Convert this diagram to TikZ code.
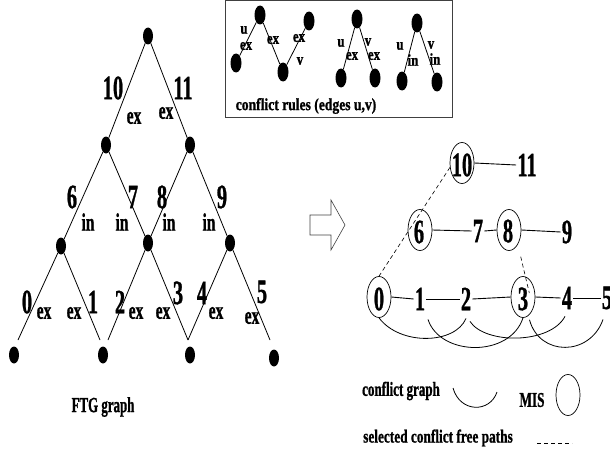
\documentclass[tikz,border=0pt]{standalone}
\usepackage{graphicx}
\usepackage{fontspec}
\setmainfont{Liberation Serif}[BoldFont={Liberation Serif Bold}, BoldFeatures={FakeBold=1.2}]
\usetikzlibrary{shapes.geometric}

% condensed bold text: size, horizontal squeeze, text
\newcommand\ctext[3]{\scalebox{#2}[1]{\fontsize{#1}{#1}\selectfont\bfseries #3}}
\newcommand\bignum[1]{\ctext{34}{0.6}{#1}}
\newcommand\elab[1]{\ctext{25}{0.62}{#1}}
\newcommand\rlab[1]{\ctext{16.5}{0.78}{#1}}

\tikzset{
  dot/.style={ellipse, fill=black, minimum width=10pt, minimum height=17pt, inner sep=0pt},
  sdot/.style={ellipse, fill=black, minimum width=11pt, minimum height=19pt, inner sep=0pt},
  num/.style={inner sep=1pt},
  lbl/.style={inner sep=0pt},
  tedge/.style={line width=0.8pt},
  gedge/.style={line width=0.9pt},
  arc/.style={line width=0.8pt},
  mis/.style={draw, ellipse, line width=0.7pt, minimum width=24pt, minimum height=41pt, inner sep=0pt},
  dpath/.style={line width=0.6pt, dash pattern=on 4pt off 3pt},
  boxline/.style={line width=1pt, black!75},
}

\begin{document}
\begin{tikzpicture}[x=1pt, y=-1pt]
\useasboundingbox (0,0) rectangle (610,452);

% ---------------- FTG graph ----------------
\node[dot] (t0) at (148,36) {};
\node[dot] (t1) at (106,145) {};
\node[dot] (t2) at (190,145) {};
\node[dot] (t3) at (61,246) {};
\node[dot] (t4) at (148,243) {};
\node[dot] (t5) at (230,243) {};
\node[dot] (l0) at (14,355) {};
\node[dot] (l1) at (103,355) {};
\node[dot] (l2) at (190,355) {};
\node[dot] (l3) at (274,358) {};

\coordinate (v0) at (18,340);
\coordinate (v1) at (100,340);
\coordinate (v2) at (108,340);
\coordinate (v3) at (188,340);
\coordinate (v4) at (270,340);

\draw[tedge] (t0) -- (t1);
\draw[tedge] (t0) -- (t2);
\draw[tedge] (t1) -- (t3);
\draw[tedge] (t1) -- (t4);
\draw[tedge] (t2) -- (t4);
\draw[tedge] (t2) -- (t5);
\draw[tedge] (t3) -- (v0);
\draw[tedge] (t3) -- (v1);
\draw[tedge] (t4) -- (v2);
\draw[tedge] (t4) -- (v3);
\draw[tedge] (t5) -- (v3);
\draw[tedge] (t5) -- (v4);

% edge numbers
\node[lbl] (k10) at (113,88) {\bignum{10}};
\node[lbl] (k11) at (183,88) {\bignum{11}};
\node[lbl] (k6) at (72,197) {\bignum{6}};
\node[lbl] (k7) at (133,197) {\bignum{7}};
\node[lbl] (k8) at (162,197) {\bignum{8}};
\node[lbl] (k9) at (222,197) {\bignum{9}};
\node[lbl] (k0) at (27,302) {\bignum{0}};
\node[lbl] (k1) at (93,302) {\bignum{1}};
\node[lbl] (k2) at (120,302) {\bignum{2}};
\node[lbl] (k3) at (178,293) {\bignum{3}};
\node[lbl] (k4) at (202,293) {\bignum{4}};
\node[lbl] (k5) at (262,292) {\bignum{5}};

% edge types
\node[lbl] (x10) at (134,118) {\elab{ex}};
\node[lbl] (x11) at (166,113) {\elab{ex}};
\node[lbl] (x6) at (88,222) {\elab{in}};
\node[lbl] (x7) at (122,222) {\elab{in}};
\node[lbl] (x8) at (169,222) {\elab{in}};
\node[lbl] (x9) at (209,222) {\elab{in}};
\node[lbl] (x0) at (44,313) {\elab{ex}};
\node[lbl] (x1) at (74,313) {\elab{ex}};
\node[lbl] (x2) at (136,313) {\elab{ex}};
\node[lbl] (x3) at (163,313) {\elab{ex}};
\node[lbl] (x4) at (216,313) {\elab{ex}};
\node[lbl] (x5) at (252,318) {\elab{ex}};

\node[lbl] (ftg) at (103,407) {\ctext{21.5}{0.6}{FTG graph}};

% ---------------- conflict rules ----------------
\draw[boxline] (225,1) rectangle (452,117);

\node[sdot] (a1) at (260,15) {};
\node[sdot] (a2) at (236,63) {};
\node[sdot] (a3) at (283,72) {};
\node[sdot] (a4) at (309,21) {};
\draw[tedge] (a1) -- (a2);
\draw[tedge] (a1) -- (a3);
\draw[tedge] (a3) -- (a4);
\node[lbl] (au) at (244,30) {\rlab{u}};
\node[lbl] (ae1) at (246,46) {\rlab{ex}};
\node[lbl] (ae2) at (273,40) {\rlab{ex}};
\node[lbl] (ae3) at (299,38) {\rlab{ex}};
\node[lbl] (av) at (300,61) {\rlab{v}};

\node[sdot] (b1) at (357,19) {};
\node[sdot] (b2) at (341,78) {};
\node[sdot] (b3) at (375,78) {};
\draw[tedge] (b1) -- (b2);
\draw[tedge] (b1) -- (b3);
\node[lbl] (bu) at (341,43) {\rlab{u}};
\node[lbl] (be1) at (352,56) {\rlab{ex}};
\node[lbl] (bv) at (368,42) {\rlab{v}};
\node[lbl] (be2) at (374,56) {\rlab{ex}};

\node[sdot] (c1) at (417,23) {};
\node[sdot] (c2) at (402,81) {};
\node[sdot] (c3) at (437,82) {};
\draw[tedge] (c1) -- (c2);
\draw[tedge] (c1) -- (c3);
\node[lbl] (cu) at (400,46) {\rlab{u}};
\node[lbl] (ci1) at (413,60) {\rlab{in}};
\node[lbl] (cv) at (431,45) {\rlab{v}};
\node[lbl] (ci2) at (435,59) {\rlab{in}};

\node[lbl] (rules) at (306,106) {\ctext{17}{0.8}{conflict rules (edges u,v)}};

% ---------------- transformation arrow ----------------
\draw[line width=0.6pt, black!75] (310,215) -- (331,215) -- (331,200) -- (345,225)
  -- (331,250) -- (331,235) -- (310,235) -- cycle;

% ---------------- conflict graph ----------------
\node[num] (r10) at (462,165) {\bignum{10}};
\node[mis] (e10) at (462,163) {};
\node[num] (r11) at (527,165) {\bignum{11}};

\node[num] (r6) at (419,232) {\bignum{6}};
\node[mis] (e6) at (420,230) {};
\node[num] (r7) at (478,231) {\bignum{7}};
\node[num] (r8) at (508,231) {\bignum{8}};
\node[mis] (e8) at (509,230) {};
\node[num] (r9) at (567,232) {\bignum{9}};

\node[num] (r0) at (379,299) {\bignum{0}};
\node[mis] (e0) at (379,297) {};
\node[num] (r1) at (420,299) {\bignum{1}};
\node[num] (r2) at (466,299) {\bignum{2}};
\node[num] (r3) at (523,299) {\bignum{3}};
\node[mis] (e3) at (523,297) {};
\node[num] (r4) at (567,298) {\bignum{4}};
\node[num] (r5) at (607,298) {\bignum{5}};

\draw[gedge] (e10.east) -- (r11.west);
\draw[gedge] (e6.east) -- (r7.west);
\draw[gedge] (r7.east) -- (e8.west);
\draw[gedge] (e8.east) -- (r9.west);
\draw[gedge] (e0.east) -- (r1.west);
\draw[gedge] (r1.east) -- (r2.west);
\draw[gedge] (r2.east) -- (e3.west);
\draw[gedge] (e3.east) -- (r4.west);
\draw[gedge] (r4.east) -- (r5.west);

% conflicts
\draw[arc] (e0.south) .. controls +(21,28) and +(-11,26) .. ([yshift=-7pt]r2.south);
\draw[arc] ([xshift=8pt,yshift=-8pt]r1.south) .. controls +(12,37) and +(-13,40) .. (e3.south);
\draw[arc] ([xshift=4pt,yshift=-10pt]r2.south) .. controls +(15,23) and +(-15,28) .. ([xshift=-2pt,yshift=-6pt]r4.south);
\draw[arc] ([yshift=-5pt]e3.-70) .. controls +(10,37) and +(-13,37) .. ([xshift=-4pt,yshift=-9pt]r5.south);

% selected conflict free paths
\draw[dpath] (e10.200) -- (e0.north);
\draw[dpath] ([xshift=3pt,yshift=-12pt]e8.south east) -- ([yshift=6pt]r3.east);

% ---------------- legend ----------------
\node[lbl] (lg1) at (401,391) {\ctext{20}{0.65}{conflict graph}};
\draw[arc] (453,388) .. controls (460,413) and (490,413) .. (497,392);
\node[lbl] (lg2) at (532,400) {\ctext{21}{0.63}{MIS}};
\node[mis] (lgm) at (568,395) {};
\node[lbl] (lg3) at (438,438) {\ctext{18.5}{0.72}{selected conflict free paths}};
\draw[dpath] (537,443) -- (572,443);

\end{tikzpicture}
\end{document}
